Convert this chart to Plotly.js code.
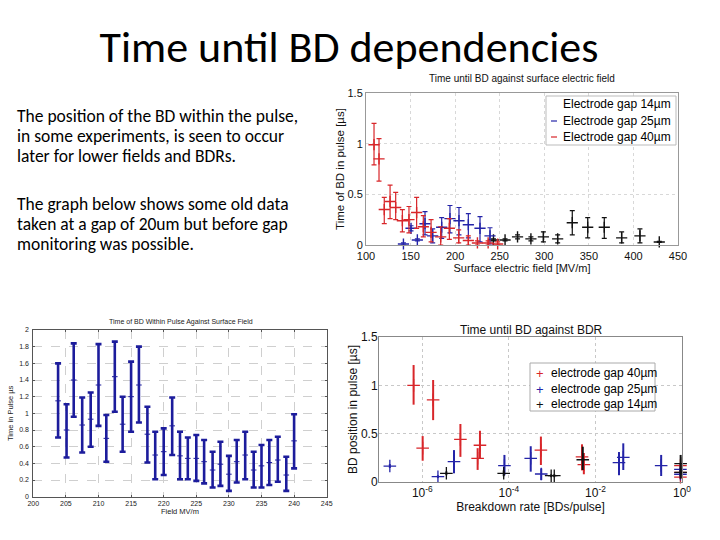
<!DOCTYPE html>
<html>
<head>
<meta charset="utf-8">
<script src="https://cdn.plot.ly/plotly-3.0.1.min.js"></script>
<style>html,body{margin:0;padding:0;background:#fff;}#chart{width:720px;height:540px;}</style>
</head>
<body>
<div id="chart"></div>
<script>
// ---------- Chart A: Time until BD against surface electric field ----------
const fieldGap14 = [243, 256, 270, 285, 299, 315, 331.4, 348.7, 367.3, 386.8, 407.3, 429];
const timeGap14  = [0.05, 0.05, 0.08, 0.06, 0.08, 0.06, 0.22, 0.175, 0.175, 0.07, 0.09, 0.03];
const hiGap14    = [0.06, 0.06, 0.10, 0.08, 0.13, 0.10, 0.34, 0.27, 0.27, 0.13, 0.16, 0.035];
const loGap14    = [0.04, 0.04, 0.06, 0.04, 0.03, 0.02, 0.10, 0.07, 0.065, 0.02, 0.02, 0.025];

const fieldGap25 = [142, 150.5, 157.6, 166.2, 174.8, 184.9, 194.2, 204.3, 214.8, 227.9, 239.1];
const timeGap25  = [0.01, 0.165, 0.05, 0.21, 0.09, 0.175, 0.26, 0.24, 0.2, 0.165, 0.09];
const hiGap25    = [0.02, 0.19, 0.06, 0.33, 0.16, 0.27, 0.39, 0.37, 0.31, 0.28, 0.17];
const loGap25    = [0.0, 0.14, 0.04, 0.1, 0.02, 0.065, 0.12, 0.1, 0.07, 0.03, 0.01];

const fieldGap40 = [109, 114.6, 120.5, 127, 133.3, 140.8, 148.2, 156.8, 164.3, 173, 183.8, 193.5, 204, 214.8, 225, 237, 247.7];
const timeGap40  = [0.99, 0.85, 0.35, 0.43, 0.37, 0.24, 0.25, 0.32, 0.18, 0.125, 0.08, 0.165, 0.07, 0.045, 0.02, 0.02, 0.01];
const hiGap40    = [1.20, 1.05, 0.47, 0.59, 0.52, 0.35, 0.38, 0.47, 0.29, 0.25, 0.18, 0.26, 0.15, 0.09, 0.04, 0.04, 0.03];
const loGap40    = [0.79, 0.63, 0.21, 0.26, 0.25, 0.13, 0.12, 0.165, 0.08, 0.03, 0.0, 0.055, 0.02, 0.0, 0.0, 0.0, 0.0];

// ---------- Chart B: old data, Time of BD within pulse against surface field ----------
const oldField = [203.8, 205.1, 206.2, 207.5, 208.8, 210.0, 211.2, 212.5, 213.7, 215.0, 216.2, 217.5, 218.7, 220.0, 221.3, 222.5, 223.7, 225.0, 226.2, 227.5, 228.7, 230.0, 231.2, 232.5, 233.8, 235.0, 236.2, 237.5, 238.8, 240.0];
const oldTime  = [1.15, 0.80, 1.40, 0.86, 0.93, 1.34, 0.70, 1.44, 0.87, 1.20, 1.34, 0.75, 0.50, 0.54, 0.85, 0.49, 0.46, 0.46, 0.42, 0.32, 0.39, 0.27, 0.42, 0.50, 0.32, 0.37, 0.41, 0.44, 0.26, 0.67];
const oldHi    = [1.60, 1.11, 1.84, 1.19, 1.25, 1.83, 0.98, 1.86, 1.20, 1.62, 1.80, 1.08, 0.78, 0.82, 1.19, 0.78, 0.71, 0.74, 0.68, 0.54, 0.66, 0.49, 0.68, 0.78, 0.54, 0.62, 0.68, 0.72, 0.48, 0.99];
const oldLo    = [0.71, 0.47, 0.96, 0.53, 0.60, 0.85, 0.42, 1.02, 0.54, 0.78, 0.89, 0.41, 0.21, 0.26, 0.50, 0.21, 0.21, 0.19, 0.16, 0.11, 0.13, 0.07, 0.17, 0.21, 0.11, 0.11, 0.14, 0.18, 0.07, 0.34];

// ---------- Chart C: Time until BD against BDR ----------
const bdrGap40  = [6.3e-7, 1.78e-6, 1.02e-6, 7.6e-6, 1.9e-5, 2.15e-5, 5.5e-4, 4.9e-3, 5.4e-3, 0.92, 0.92, 0.92];
const posGap40  = [1.0, 0.85, 0.35, 0.44, 0.245, 0.38, 0.33, 0.26, 0.18, 0.17, 0.10, 0.05];
const posHi40   = [1.21, 1.055, 0.475, 0.6, 0.35, 0.53, 0.47, 0.39, 0.30, 0.19, 0.12, 0.07];
const posLo40   = [0.80, 0.64, 0.22, 0.26, 0.125, 0.245, 0.176, 0.12, 0.08, 0.15, 0.08, 0.03];

const bdrGap25  = [1.78e-7, 2.3e-6, 5.4e-6, 7.9e-5, 3.2e-4, 5.6e-4, 0.035, 0.044, 0.33, 0.92, 0.92];
const posGap25  = [0.165, 0.055, 0.21, 0.17, 0.245, 0.083, 0.2, 0.255, 0.17, 0.13, 0.08];
const posHi25   = [0.185, 0.07, 0.33, 0.28, 0.37, 0.14, 0.31, 0.40, 0.28, 0.15, 0.10];
const posLo25   = [0.145, 0.04, 0.09, 0.07, 0.107, 0.02, 0.07, 0.124, 0.062, 0.11, 0.06];

const bdrGap14  = [3.6e-6, 7.6e-5, 9.5e-4, 1.12e-3, 5.1e-3, 0.93, 0.93];
const posGap14  = [0.09, 0.09, 0.065, 0.065, 0.23, 0.19, 0.10];
const posHi14   = [0.11, 0.12, 0.08, 0.08, 0.365, 0.28, 0.12];
const posLo14   = [0.07, 0.06, 0.05, 0.05, 0.124, 0.04, 0.08];

const fieldTicks = [100, 150, 200, 250, 300, 350, 400, 450];
const oldFieldTicks = [200, 205, 210, 215, 220, 225, 230, 235, 240, 245];
const oldTimeTicks = [0, 0.2, 0.4, 0.6, 0.8, 1, 1.2, 1.4, 1.6, 1.8, 2];
const bdrTicks = [1e-6, 1e-4, 1e-2, 1];
const bdrTickText = ['10<sup>-6</sup>', '10<sup>-4</sup>', '10<sup>-2</sup>', '10<sup>0</sup>'];

const legendA = ['Electrode gap 14\u00b5m', 'Electrode gap 25\u00b5m', 'Electrode gap 40\u00b5m'];
const legendC = ['electrode gap 40\u00b5m', 'electrode gap 25\u00b5m', 'electrode gap 14\u00b5m'];

const slideLines = [
  'The position of the BD within the pulse,',
  'in some experiments, is seen to occur',
  'later for lower fields and BDRs.',
  'The graph below shows some old data',
  'taken at a gap of 20um but before gap',
  'monitoring was possible.'
];
const slideLineY = [116, 136, 156, 204, 224, 244];

const up = (hi, y) => hi.map((h, i) => Math.max(h - y[i], 0));
const dn = (lo, y) => lo.map((l, i) => Math.max(y[i] - l, 0));

const RED = '#d8262a', BLUE = '#2424a8', BLACK = '#111111', NAVY = '#1c1c9c';
const chartFont = 'Liberation Sans, Arial, Helvetica, sans-serif';
const slideFont = 'Carlito, Lato, "Open Sans", sans-serif';

function fieldTrace(name, x, y, hi, lo, color) {
  return {
    type: 'scatter', mode: 'markers', name: name, x: x, y: y,
    xaxis: 'x', yaxis: 'y', showlegend: false, cliponaxis: false,
    marker: {symbol: 'cross-thin-open', size: 8, color: color, line: {color: color, width: 1.4}},
    error_y: {type: 'data', array: up(hi, y), arrayminus: dn(lo, y), color: color, thickness: 1.2, width: 2.5}
  };
}
function bdrTrace(name, x, y, hi, lo, color) {
  return {
    type: 'scatter', mode: 'markers', name: name, x: x, y: y,
    xaxis: 'x3', yaxis: 'y3', showlegend: false, cliponaxis: false,
    marker: {symbol: 'cross-thin-open', size: 9, color: color, line: {color: color, width: 1.3}},
    error_y: {type: 'data', array: up(hi, y), arrayminus: dn(lo, y), color: color, thickness: 2, width: 0}
  };
}

const traces = [
  fieldTrace(legendA[0], fieldGap14, timeGap14, hiGap14, loGap14, BLACK),
  fieldTrace(legendA[1], fieldGap25, timeGap25, hiGap25, loGap25, BLUE),
  fieldTrace(legendA[2], fieldGap40, timeGap40, hiGap40, loGap40, RED),
  {
    type: 'scatter', mode: 'markers', name: 'old data', x: oldField, y: oldTime,
    xaxis: 'x2', yaxis: 'y2', showlegend: false,
    marker: {symbol: 'line-ew-open', size: 4, color: NAVY, line: {color: NAVY, width: 1}},
    error_y: {type: 'data', array: up(oldHi, oldTime), arrayminus: dn(oldLo, oldTime), color: NAVY, thickness: 2.6, width: 3}
  },
  bdrTrace(legendC[0], bdrGap40, posGap40, posHi40, posLo40, RED),
  bdrTrace(legendC[1], bdrGap25, posGap25, posHi25, posLo25, BLUE),
  bdrTrace(legendC[2], bdrGap14, posGap14, posHi14, posLo14, BLACK)
];

const P = (px) => px / 720;
const Q = (py) => 1 - py / 540;

const annotations = [
  {text: 'Time until BD against surface electric field', x: P(522), y: Q(79), xref: 'paper', yref: 'paper',
   showarrow: false, xanchor: 'center', yanchor: 'middle', font: {size: 10, color: '#111'}},
  {text: 'Time of BD Within Pulse Against Surface Field', x: P(181), y: Q(322), xref: 'paper', yref: 'paper',
   showarrow: false, xanchor: 'center', yanchor: 'middle', font: {size: 7, color: '#222'}},
  {text: 'Time until BD against BDR', x: P(531), y: Q(330), xref: 'paper', yref: 'paper',
   showarrow: false, xanchor: 'center', yanchor: 'middle', font: {size: 12, color: '#111'}}
];
slideLines.forEach((t, i) => annotations.push({
  text: t, x: P(15), y: Q(slideLineY[i]), xref: 'paper', yref: 'paper', showarrow: false,
  xanchor: 'left', yanchor: 'middle', align: 'left', font: {family: slideFont, size: 17.5, color: '#000'}
}));

// legend of chart A (right aligned text in a box)
const legendAY = [104, 121, 137];
const legendAColors = ['#ffffff', BLUE, RED];
legendA.forEach((t, i) => annotations.push({
  text: t, x: P(673), y: Q(legendAY[i]), xref: 'paper', yref: 'paper', showarrow: false,
  xanchor: 'right', yanchor: 'middle', font: {size: 12, color: '#000'}
}));
// legend of chart C
const legendCY = [373, 389, 404];
const legendCColors = [RED, BLUE, BLACK];
legendC.forEach((t, i) => {
  annotations.push({
    text: '+', x: P(540), y: Q(legendCY[i]), xref: 'paper', yref: 'paper', showarrow: false,
    xanchor: 'center', yanchor: 'middle', font: {size: 13, color: legendCColors[i]}
  });
  annotations.push({
    text: t, x: P(549), y: Q(legendCY[i]), xref: 'paper', yref: 'paper', showarrow: false,
    xanchor: 'left', yanchor: 'middle', font: {size: 12, color: '#000'}
  });
});

const shapes = [
  {type: 'rect', xref: 'paper', yref: 'paper', x0: P(546), x1: P(676), y0: Q(145), y1: Q(96),
   line: {color: '#bbb', width: 1}, fillcolor: '#fff', layer: 'above'},
  {type: 'rect', xref: 'paper', yref: 'paper', x0: P(530), x1: P(655), y0: Q(411), y1: Q(363),
   line: {color: '#aaa', width: 1}, fillcolor: '#fff', layer: 'above'}
];
legendAY.forEach((yy, i) => {
  if (i > 0) shapes.push({type: 'line', xref: 'paper', yref: 'paper', x0: P(551), x1: P(557), y0: Q(yy), y1: Q(yy),
    line: {color: legendAColors[i], width: 1.2}, layer: 'above'});
});

const layout = {
  width: 720, height: 540,
  margin: {l: 0, r: 0, t: 0, b: 0},
  paper_bgcolor: '#ffffff', plot_bgcolor: 'rgba(0,0,0,0)',
  font: {family: chartFont, color: '#111'},
  showlegend: false,
  title: {text: 'Time until BD dependencies', x: P(349), y: Q(47), xanchor: 'center', yanchor: 'middle',
          font: {family: slideFont, size: 44, color: '#000'}},
  xaxis: {domain: [P(366), P(678)], anchor: 'y', range: [100, 450], tickvals: fieldTicks, ticks: '',
          showgrid: true, gridcolor: '#d8d8d8', griddash: 'dot', zeroline: false,
          showline: true, linecolor: '#999', linewidth: 1, mirror: true,
          tickfont: {size: 11, color: '#111'}, ticklabelstandoff: 1,
          title: {text: 'Surface electric field [MV/m]', font: {size: 11, color: '#111'}, standoff: 1}},
  yaxis: {domain: [Q(245), Q(93)], anchor: 'x', range: [0, 1.5], tickvals: [0, 0.5, 1, 1.5], ticktext: ['0', '0.5', '1', '1.5'], ticks: '',
          showgrid: true, gridcolor: '#d8d8d8', griddash: 'dot', zeroline: false,
          showline: true, linecolor: '#999', linewidth: 1, mirror: true,
          tickfont: {size: 11, color: '#111'}, ticklabelstandoff: 0,
          title: {text: 'Time of BD in pulse [\u00b5s]', font: {size: 11.5, color: '#111'}, standoff: 0}},
  xaxis2: {domain: [P(33.3), P(326.7)], anchor: 'y2', range: [200, 245], tickvals: oldFieldTicks, ticks: 'inside', ticklen: 2, tickcolor: '#555',
          showgrid: true, gridcolor: '#cfcfcf', griddash: 'dash', zeroline: false,
          showline: true, linecolor: '#555', linewidth: 1, mirror: 'ticks',
          tickfont: {size: 7, color: '#222'}, ticklabelstandoff: 0,
          title: {text: 'Field MV/m', font: {size: 7.5, color: '#222'}, standoff: 0}},
  yaxis2: {domain: [Q(496.7), Q(330)], anchor: 'x2', range: [0, 2], tickvals: oldTimeTicks, ticks: 'inside', ticklen: 2, tickcolor: '#555',
          showgrid: true, gridcolor: '#cfcfcf', griddash: 'dash', zeroline: false,
          showline: true, linecolor: '#555', linewidth: 1, mirror: 'ticks',
          tickfont: {size: 7, color: '#222'}, ticklabelstandoff: 2,
          title: {text: 'Time in Pulse \u00b5s', font: {size: 7.5, color: '#222'}, standoff: 4}},
  xaxis3: {domain: [P(379), P(682)], anchor: 'y3', type: 'log', range: [-7, 0], tickvals: bdrTicks, ticktext: bdrTickText, ticks: '',
          showgrid: true, gridcolor: '#c8c8c8', griddash: 'dot', zeroline: false,
          showline: true, linecolor: '#888', linewidth: 1, mirror: true,
          tickfont: {size: 12, color: '#111'}, ticklabelstandoff: 0,
          title: {text: 'Breakdown rate [BDs/pulse]', font: {size: 12, color: '#111'}, standoff: 2}},
  yaxis3: {domain: [Q(482), Q(337)], anchor: 'x3', range: [0, 1.5], tickvals: [0, 0.5, 1, 1.5], ticktext: ['0', '0.5', '1', '1.5'], ticks: '',
          showgrid: true, gridcolor: '#c8c8c8', griddash: 'dot', zeroline: false,
          showline: true, linecolor: '#888', linewidth: 1, mirror: true,
          tickfont: {size: 12, color: '#111'}, ticklabelstandoff: -2,
          title: {text: 'BD position in pulse [\u00b5s]', font: {size: 12, color: '#111'}, standoff: 0}},
  shapes: shapes,
  annotations: annotations
};

Plotly.newPlot('chart', traces, layout, {staticPlot: true, displayModeBar: false});
</script>
</body>
</html>
